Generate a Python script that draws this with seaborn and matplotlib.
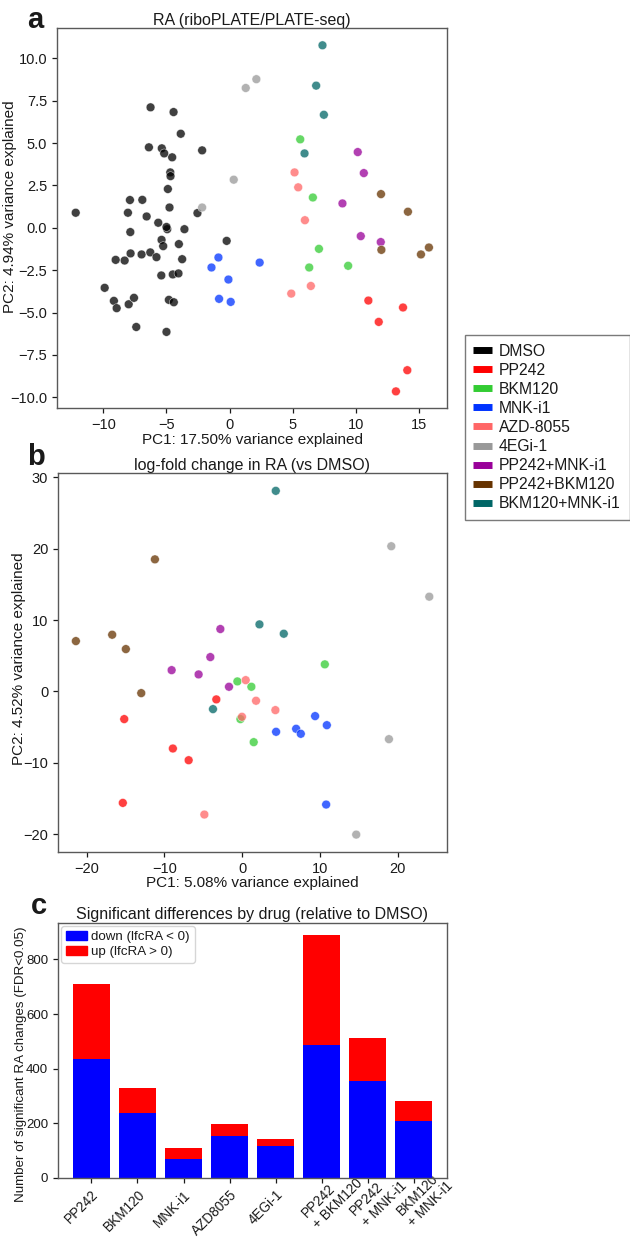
import numpy as np
import pandas as pd
import matplotlib
matplotlib.use("Agg")
import matplotlib.pyplot as plt
from matplotlib.lines import Line2D
from matplotlib.patches import Patch
import seaborn as sns

# --- groups and colours
drugs = ["DMSO", "PP242", "BKM120", "MNK-i1", "AZD-8055", "4EGi-1",
         "PP242+MNK-i1", "PP242+BKM120", "BKM120+MNK-i1"]
drug_colors = ["#000000", "#ff0000", "#33cc33", "#0033ff", "#ff6666",
               "#999999", "#990099", "#663300", "#006666"]

# --- panel a: PCA of RA (points grouped by drug, same order as drugs)
a_counts = [46, 5, 5, 6, 5, 4, 5, 5, 4]
a_pc1 = [
    # DMSO
    -12.18, -6.26, -4.44, -3.87, -6.39, -5.37, -5.18, -4.55, -2.18, -4.70,
    -4.68, -4.89, -7.89, -6.91, -8.05, -6.57, -4.76, -2.55, -5.65, -4.94,
    -5.00, -3.58, -7.86, -5.39, -5.26, -4.02, -0.24, -9.02, -8.31, -7.84,
    -6.97, -6.28, -5.79, -3.76, -5.41, -4.50, -4.05, -9.89, -9.16, -8.94,
    -7.99, -7.57, -4.81, -4.42, -7.39, -5.00,
    # PP242
    10.97, 13.71, 11.79, 14.05, 13.15,
    # BKM120
    5.58, 6.58, 7.06, 6.29, 9.37,
    # MNK-i1
    -0.89, -1.44, 2.37, -0.10, -0.84, 0.08,
    # AZD-8055
    5.13, 5.42, 5.95, 6.42, 4.87,
    # 4EGi-1
    1.27, 2.11, 0.32, -2.18,
    # PP242+MNK-i1
    10.13, 10.61, 8.92, 10.37, 11.95,
    # PP242+BKM120
    11.97, 14.10, 12.00, 15.76, 15.13,
    # BKM120+MNK-i1
    7.34, 6.84, 7.45, 5.92,
]
a_pc2 = [
    # DMSO
    0.89, 7.11, 6.83, 5.55, 4.75, 4.69, 4.39, 4.16, 4.57, 3.27,
    3.05, 2.29, 1.64, 1.65, 0.89, 0.67, 1.20, 0.87, 0.30, -0.08,
    0.05, -0.08, -0.25, -0.71, -1.08, -0.96, -0.77, -1.89, -1.93, -1.51,
    -1.57, -1.45, -1.73, -1.85, -2.81, -2.75, -2.69, -3.54, -4.31, -4.74,
    -4.51, -4.13, -4.25, -4.39, -5.85, -6.14,
    # PP242
    -4.29, -4.70, -5.55, -8.40, -9.65,
    # BKM120
    5.22, 1.79, -1.24, -2.34, -2.24,
    # MNK-i1
    -1.75, -2.34, -2.05, -3.05, -4.19, -4.37,
    # AZD-8055
    3.27, 2.39, 0.45, -3.43, -3.88,
    # 4EGi-1
    8.25, 8.77, 2.84, 1.20,
    # PP242+MNK-i1
    4.47, 3.23, 1.44, -0.49, -0.84,
    # PP242+BKM120
    1.99, 0.95, -1.30, -1.16, -1.57,
    # BKM120+MNK-i1
    10.77, 8.39, 6.67, 4.39,
]

# --- panel b: PCA of log-fold change in RA (no DMSO group)
b_counts = [5, 5, 6, 5, 4, 5, 5, 4]
b_pc1 = [
    -3.33, -15.18, -8.92, -6.89, -15.36,          # PP242
    10.63, -0.62, 1.18, -0.23, 1.48,              # BKM120
    4.36, 6.94, 7.54, 9.38, 10.89, 10.80,         # MNK-i1
    0.45, 1.78, -0.03, 4.27, -4.87,               # AZD-8055
    19.18, 24.07, 18.88, 14.67,                   # 4EGi-1
    -2.81, -4.10, -9.08, -5.61, -1.70,            # PP242+MNK-i1
    -21.40, -16.73, -14.97, -11.23, -12.99,       # PP242+BKM120
    4.32, 2.22, 5.35, -3.76,                      # BKM120+MNK-i1
]
b_pc2 = [
    -1.12, -3.88, -8.00, -9.64, -15.62,
    3.79, 1.40, 0.65, -3.88, -7.11,
    -5.66, -5.24, -5.94, -3.46, -4.73, -15.85,
    1.58, -1.31, -3.56, -2.62, -17.25,
    20.34, 13.27, -6.69, -20.06,
    8.74, 4.81, 2.98, 2.38, 0.65,
    7.05, 7.94, 5.93, 18.50, -0.24,
    28.10, 9.39, 8.08, -2.48,
]

# --- panel c: significant RA changes by drug
c_labels = ["PP242", "BKM120", "MNK-i1", "AZD8055", "4EGi-1",
            "PP242\n+ BKM120", "PP242\n+ MNK-i1", "BKM120\n+ MNK-i1"]
c_down = [435, 236, 69, 152, 117, 488, 355, 210]
c_up = [275, 93, 39, 47, 26, 401, 158, 72]

sns.set_theme(style="ticks")
plt.rcParams["font.family"] = ["Liberation Sans", "DejaVu Sans"]
plt.rcParams.update({
    "axes.edgecolor": "0.35",
    "axes.linewidth": 1.0,
    "text.color": "0.1",
    "axes.labelcolor": "0.1",
    "xtick.color": "0.1",
    "ytick.color": "0.1",
    "xtick.major.size": 3.5,
    "ytick.major.size": 3.5,
    "xtick.major.width": 0.9,
    "ytick.major.width": 0.9,
    "xtick.labelsize": 10.5,
    "ytick.labelsize": 10.5,
    "axes.labelsize": 11,
    "axes.titlesize": 11.5,
})

palette = dict(zip(drugs, drug_colors))

df_a = pd.DataFrame({"drug": np.repeat(drugs, a_counts), "PC1": a_pc1, "PC2": a_pc2})
df_b = pd.DataFrame({"drug": np.repeat(drugs[1:], b_counts), "PC1": b_pc1, "PC2": b_pc2})
df_c = pd.DataFrame({"drug": c_labels, "down": c_down, "up": c_up})
df_c["total"] = df_c["down"] + df_c["up"]

W, H = 630, 1240
fig = plt.figure(figsize=(W / 100, H / 100), dpi=100)


def px_axes(left, top, right, bottom):
    return fig.add_axes([left / W, 1 - bottom / H, (right - left) / W, (bottom - top) / H])


# --- a
ax_a = px_axes(57, 28, 447, 408)
sns.scatterplot(data=df_a, x="PC1", y="PC2", hue="drug", hue_order=drugs,
                palette=palette, s=40, alpha=0.75, edgecolor="white",
                linewidth=0.4, legend=False, ax=ax_a)
ax_a.set_xlim(-13.66, 17.19)
ax_a.set_ylim(-10.63, 11.79)
ax_a.set_xticks([-10, -5, 0, 5, 10, 15])
ax_a.set_yticks(np.arange(-10, 10.1, 2.5))
ax_a.set_yticklabels([f"{v:.1f}".replace("-", "\u2212") for v in np.arange(-10, 10.1, 2.5)])
ax_a.set_xlabel("PC1: 17.50% variance explained", labelpad=1)
ax_a.set_ylabel("PC2: 4.94% variance explained")
ax_a.yaxis.set_label_coords((17 - 57) / 390, 0.53)
ax_a.set_title("RA (riboPLATE/PLATE-seq)", pad=2)

# --- b
ax_b = px_axes(58, 473, 447, 852)
sns.scatterplot(data=df_b, x="PC1", y="PC2", hue="drug", hue_order=drugs[1:],
                palette=palette, s=40, alpha=0.75, edgecolor="white",
                linewidth=0.4, legend=False, ax=ax_b)
ax_b.set_xlim(-23.7, 26.35)
ax_b.set_ylim(-22.5, 30.6)
ax_b.set_xticks([-20, -10, 0, 10, 20])
ax_b.set_yticks([-20, -10, 0, 10, 20, 30])
ax_b.set_xlabel("PC1: 5.08% variance explained", labelpad=0)
ax_b.set_ylabel("PC2: 4.52% variance explained")
ax_b.yaxis.set_label_coords((26 - 58) / 389, 0.51)
ax_b.set_title("log-fold change in RA (vs DMSO)", pad=0)

for ax in (ax_a, ax_b):
    for s in ax.spines.values():
        s.set_visible(True)

# shared legend for a and b
handles = [Line2D([0], [0], color=c, lw=5, solid_capstyle="butt") for c in drug_colors]
fig.legend(handles, drugs, loc="upper right", bbox_to_anchor=(629.5 / W, 1 - 335 / H),
           frameon=True, fancybox=False, edgecolor="0.35", fontsize=11.3,
           handlelength=1.2, handletextpad=0.45, labelspacing=0.26,
           borderpad=0.55, borderaxespad=0)

# --- c
ax_c = px_axes(58, 923, 447, 1178)
sns.barplot(data=df_c, x="drug", y="total", color="#ff0000", saturation=1,
            width=0.8, linewidth=0, ax=ax_c)
sns.barplot(data=df_c, x="drug", y="down", color="#0000ff", saturation=1,
            width=0.8, linewidth=0, ax=ax_c)
ax_c.set_xlim(-0.725, 7.72)
ax_c.set_ylim(0, 933)
ax_c.set_yticks([0, 200, 400, 600, 800])
ax_c.tick_params(axis="y", labelsize=9.5)
ax_c.set_xlabel("")
ax_c.set_ylabel("Number of significant RA changes (FDR<0.05)", fontsize=9.6)
ax_c.yaxis.set_label_coords((27 - 58) / 389, 0.445)
ax_c.set_title("Significant differences by drug (relative to DMSO)", pad=3)
ax_c.set_xticks(range(len(c_labels)))
ax_c.set_xticklabels(c_labels, rotation=45, fontsize=9.8)
for lab in ax_c.get_xticklabels():
    lab.set_rotation_mode("anchor")
    lab.set_va("top")
    if "\n" in lab.get_text():
        lab.set_ha("center")
        lab.set_multialignment("left")
    else:
        lab.set_ha("right")
for s in ax_c.spines.values():
    s.set_visible(True)
ax_c.legend([Patch(color="#0000ff"), Patch(color="#ff0000")],
            ["down (lfcRA < 0)", "up (lfcRA > 0)"], loc="upper left",
            fontsize=9.6, handlelength=1.6, handletextpad=0.3, labelspacing=0.2,
            borderpad=0.35, borderaxespad=0.25)

# panel letters
fig.text(27 / W, 1 - 20 / H, "a", fontsize=21, fontweight="bold", va="center", ha="left")
fig.text(27 / W, 1 - 457 / H, "b", fontsize=21, fontweight="bold", va="center", ha="left")
fig.text(31 / W, 1 - 906 / H, "c", fontsize=21, fontweight="bold", va="center", ha="left")

fig.savefig("out.png", dpi=100)
